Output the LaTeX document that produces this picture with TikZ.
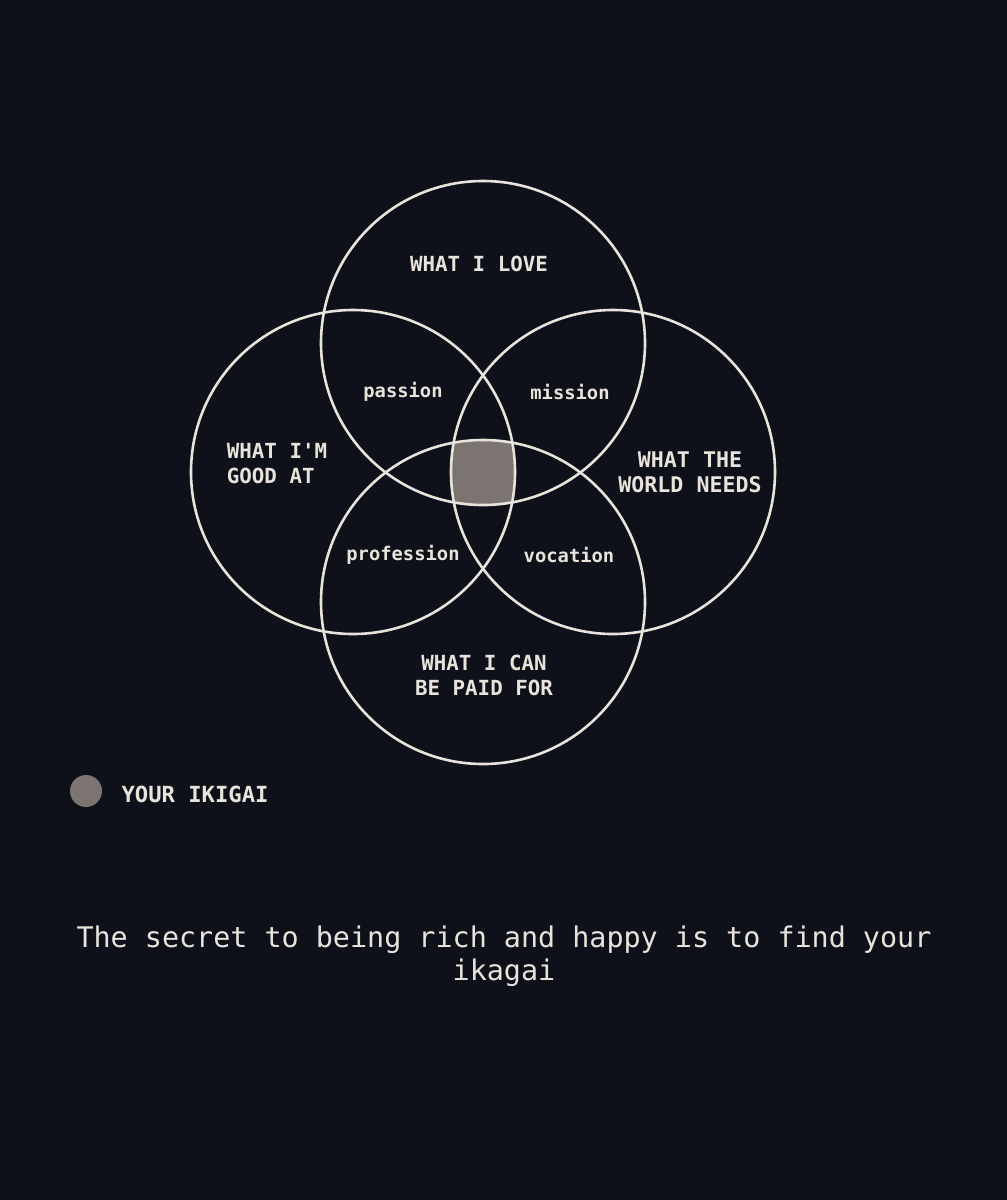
\documentclass[tikz,border=0pt]{standalone}
\usepackage{fontspec}
\setmonofont{DejaVu Sans Mono}
\usetikzlibrary{positioning}

\definecolor{bgnavy}{HTML}{0E111A}
\definecolor{ringwhite}{HTML}{E8E4DC}
\definecolor{ikigaigrey}{HTML}{7B7471}

\tikzset{
    ring/.style={draw=ringwhite, line width=2.6pt},
    bigword/.style={text=ringwhite, align=center, font=\ttfamily\bfseries\fontsize{20.8}{25}\selectfont},
    smallword/.style={text=ringwhite, font=\ttfamily\bfseries\fontsize{18.8}{22}\selectfont},
    motto/.style={text=ringwhite, align=center, font=\ttfamily\fontsize{28.4}{33}\selectfont}
}

\begin{document}
\begin{tikzpicture}[x=1pt, y=-1pt]
    % Background and page size
    \useasboundingbox[fill=bgnavy] (0,0) rectangle (1007,1200);

    % Define the centres of the four circles
    \coordinate (T) at (483,343);
    \coordinate (L) at (353,472);
    \coordinate (R) at (613,472);
    \coordinate (B) at (483,602);

    % Fill the part that all four circles share
    \begin{scope}
        \clip (T) circle[radius=162pt];
        \clip (L) circle[radius=162pt];
        \clip (R) circle[radius=162pt];
        \fill[ikigaigrey] (B) circle[radius=162pt];
    \end{scope}

    % Draw the circles
    \draw[ring] (T) circle[radius=162pt];
    \draw[ring] (L) circle[radius=162pt];
    \draw[ring] (R) circle[radius=162pt];
    \draw[ring] (B) circle[radius=162pt];

    % Place the labels of the circles
    \node (love) at (479,264) [bigword] {WHAT I LOVE};
    \node (good) at (277,464) [bigword, align=left] {WHAT I'M\\GOOD AT};
    \node (world) at (690,472) [bigword, font=\ttfamily\bfseries\fontsize{21.6}{25}\selectfont] {WHAT THE\\WORLD NEEDS};
    \node (paid) at (484,675) [bigword] {WHAT I CAN\\BE PAID FOR};

    % Place the labels of the overlaps
    \node (passion) at (403,392) [smallword] {passion};
    \node (mission) at (570,392) [smallword] {mission};
    \node (profession) at (403,555) [smallword] {profession};
    \node (vocation) at (569,555) [smallword] {vocation};

    % Legend
    \fill[ikigaigrey] (86,791) circle[radius=16pt];
    \node (legend) at (118,794) [bigword, anchor=west, font=\ttfamily\bfseries\fontsize{22.2}{25}\selectfont] {YOUR IKIGAI};

    % Motto at the bottom
    \node (motto) at (504,956) [motto] {The secret to being rich and happy is to find your\\ikagai};
\end{tikzpicture}
\end{document}
